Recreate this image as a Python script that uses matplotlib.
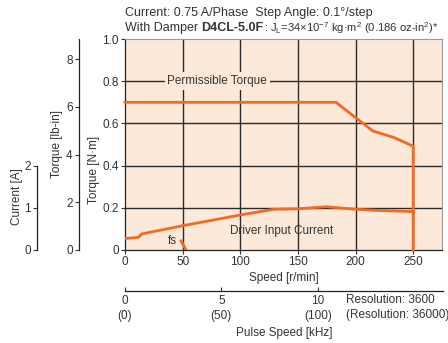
import matplotlib
matplotlib.use("Agg")
import matplotlib.pyplot as plt
from matplotlib.ticker import FuncFormatter

# ---- data ----
speed_torque = [0, 183, 215, 233, 250, 250]
perm_torque = [0.70, 0.70, 0.564, 0.534, 0.492, 0.0]

speed_current = [0, 11.6, 14.4, 50, 100, 129, 149, 175, 200, 218, 250]
input_current = [0.27, 0.30, 0.38, 0.575, 0.83, 0.965, 0.975, 1.025, 0.965, 0.94, 0.91]

fs_speed = [48.6, 53.0]
fs_torque = [0.043, 0.0]

speed_ticks = [0, 50, 100, 150, 200, 250]
nm_ticks = [0, 0.2, 0.4, 0.6, 0.8, 1.0]
lbin_ticks = [0, 2, 4, 6, 8]
amp_ticks = [0, 1, 2]
khz_ticks = [0, 5, 10]
khz_labels = ["0\n(0)", "5\n(50)", "10\n(100)"]

ORANGE = "#f26a24"
PEACH = "#fde9da"
TXT = "#333333"
FS = 8.5

plt.rcParams["font.family"] = ["Liberation Sans", "DejaVu Sans"]
plt.rcParams["font.size"] = FS
plt.rcParams["text.color"] = TXT
plt.rcParams["axes.labelcolor"] = TXT
plt.rcParams["xtick.color"] = TXT
plt.rcParams["ytick.color"] = TXT
plt.rcParams["mathtext.fontset"] = "custom"
plt.rcParams["mathtext.rm"] = "Liberation Sans"
plt.rcParams["mathtext.it"] = "Liberation Sans"

W, H = 448, 343
fig = plt.figure(figsize=(W / 100, H / 100), dpi=100)

x0, x1, y0, y1 = 125, 442, 250, 39
ax = fig.add_axes([x0 / W, 1 - y0 / H, (x1 - x0) / W, (y0 - y1) / H])
ax.set_facecolor(PEACH)
ax.set_xlim(0, 275)
ax.set_ylim(0, 1.0)
ax.set_xticks(speed_ticks)
ax.set_yticks(nm_ticks)
fmt = FuncFormatter(lambda v, p: "0" if v == 0 else f"{v:.1f}")
ax.yaxis.set_major_formatter(fmt)
ax.tick_params(length=3, width=0.8, pad=1.5, labelsize=FS)
for v in speed_ticks[1:]:
    ax.axvline(v, color="#2a2a2a", lw=1.0, zorder=1)
for v in nm_ticks[1:-1]:
    ax.axhline(v, color="#2a2a2a", lw=1.0, zorder=1)
for s in ("top", "right"):
    ax.spines[s].set_color("#9a9a9a")
    ax.spines[s].set_linewidth(0.8)
for s in ("left", "bottom"):
    ax.spines[s].set_color("#222222")
    ax.spines[s].set_linewidth(0.9)
ax.set_xlabel("Speed [r/min]", fontsize=FS, labelpad=3)
ax.set_ylabel("Torque [N·m]", fontsize=FS)
ax.yaxis.set_label_coords((100 - x0) / (x1 - x0), 0.38)

ax.plot(speed_torque, perm_torque, color=ORANGE, lw=2, zorder=3, clip_on=False)
ax.plot(fs_speed, fs_torque, color=ORANGE, lw=2, zorder=3)
ax.text(80, 0.8, "Permissible Torque", ha="center", va="center", fontsize=FS,
        bbox=dict(facecolor=PEACH, edgecolor="none", pad=2), zorder=4)
ax.text(136, 0.09, "Driver Input Current", ha="center", va="center", fontsize=FS, zorder=4)
ax.text(41.5, 0.045, "fs", ha="center", va="center", fontsize=FS, zorder=4)

# current axis (twin, 0..5 A spans full height, spine shows 0..2)
axc = ax.twinx()
axc.set_ylim(0, 5)
axc.plot(speed_current, input_current, color=ORANGE, lw=2, zorder=3)
for s in ("right", "top", "bottom"):
    axc.spines[s].set_visible(False)
axc.spines["left"].set_visible(True)
axc.spines["left"].set_position(("axes", (37 - x0) / (x1 - x0)))
axc.spines["left"].set_bounds(0, 2)
axc.spines["left"].set_color("#222222")
axc.spines["left"].set_linewidth(0.9)
axc.yaxis.set_ticks_position("left")
axc.yaxis.set_label_position("left")
axc.set_yticks(amp_ticks)
axc.tick_params(length=3, width=0.8, pad=1.5, labelsize=FS)
axc.set_ylabel("Current [A]", fontsize=FS)
axc.yaxis.set_label_coords((23 - x0) / (x1 - x0), (y0 - 197) / (y0 - y1))

# lb-in axis
axl = ax.twinx()
axl.set_ylim(0, 8.85)
for s in ("right", "top", "bottom"):
    axl.spines[s].set_visible(False)
axl.spines["left"].set_visible(True)
axl.spines["left"].set_position(("axes", (79 - x0) / (x1 - x0)))
axl.spines["left"].set_color("#222222")
axl.spines["left"].set_linewidth(0.9)
axl.yaxis.set_ticks_position("left")
axl.yaxis.set_label_position("left")
axl.set_yticks(lbin_ticks)
axl.tick_params(length=3, width=0.8, pad=1.5, labelsize=FS)
axl.set_ylabel("Torque [lb-in]", fontsize=FS)
axl.yaxis.set_label_coords((63 - x0) / (x1 - x0), 0.5)

# pulse speed axis
axp = fig.add_axes([x0 / W, 1 - 291 / H, (443 - x0) / W, 0.01])
axp.set_xlim(0, 275 * 0.06)
axp.patch.set_visible(False)
for s in ("right", "top", "left"):
    axp.spines[s].set_visible(False)
axp.spines["bottom"].set_color("#222222")
axp.spines["bottom"].set_linewidth(0.9)
axp.set_yticks([])
axp.set_xticks(khz_ticks)
axp.set_xticklabels(khz_labels, linespacing=1.3)
axp.tick_params(axis="x", direction="in", length=3, width=0.8, pad=3, labelsize=FS)
axp.set_xlabel("Pulse Speed [kHz]", fontsize=FS, labelpad=4)
axp.text(11.45, -1.0, "Resolution: 3600\n(Resolution: 36000)", transform=axp.get_xaxis_transform(),
         ha="left", va="top", fontsize=FS, linespacing=1.3)

# header
HS = 9
fig.text(x0 / W, 1 - 13 / H, "Current: 0.75 A/Phase  Step Angle: 0.1°/step",
         ha="left", va="center", fontsize=HS)
t1 = fig.text(x0 / W, 1 - 28 / H, "With Damper ", ha="left", va="center", fontsize=HS)
t2 = ax.annotate("D4CL-5.0F", xy=(1, 0.5), xycoords=t1, ha="left", va="center",
                 fontsize=HS, fontweight="bold", annotation_clip=False)
ax.annotate(r": J$_\mathregular{L}$=34×10$^{-7}$ kg·m$^2$ (0.186 oz-in$^2$)*", xy=(1, 0.5), xycoords=t2,
            ha="left", va="center", fontsize=8.1, annotation_clip=False)

fig.savefig("out.png", dpi=100)
